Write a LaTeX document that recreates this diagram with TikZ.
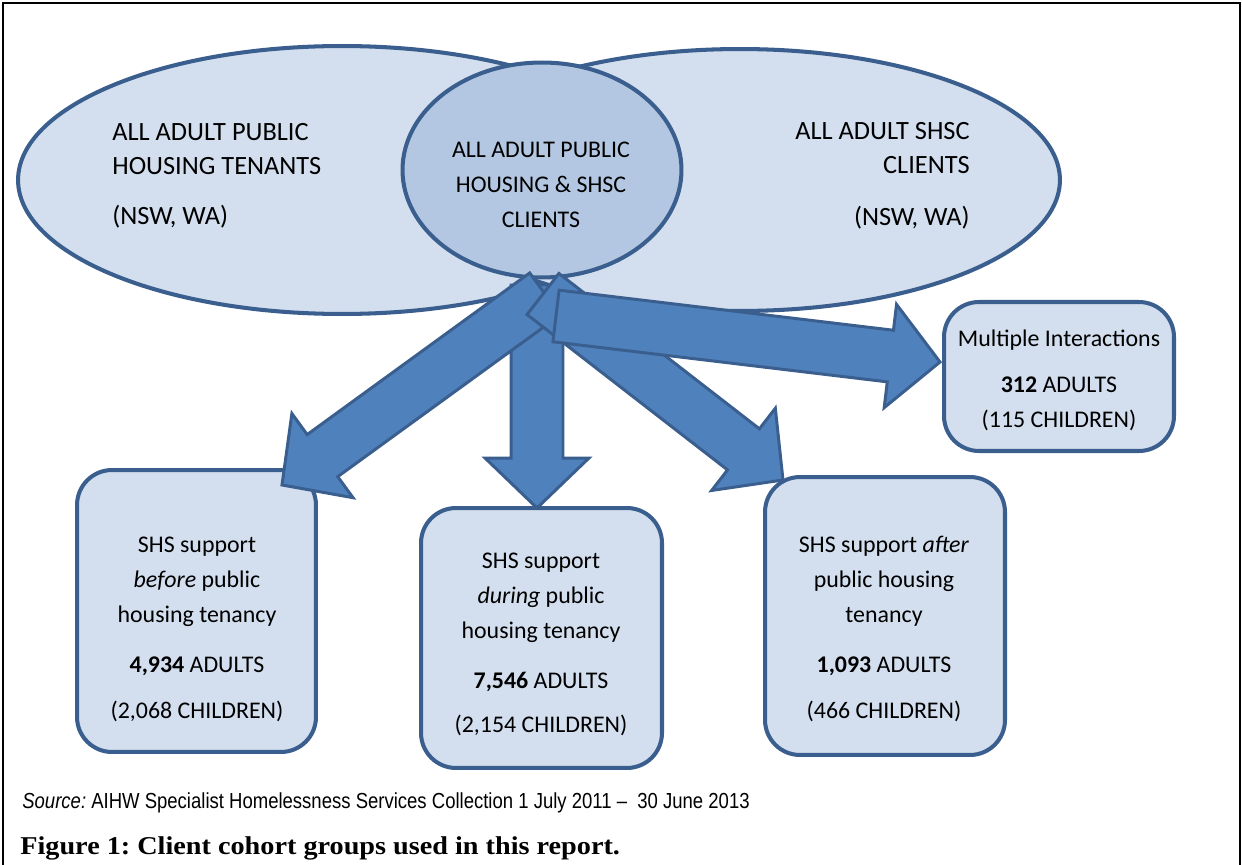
\documentclass[tikz,border=0pt]{standalone}
\usepackage{fontspec}
\setmainfont{Carlito}
\newfontfamily\srcfont[FakeStretch=0.85]{Liberation Sans}
\newfontfamily\capfont[FakeStretch=1.1]{Liberation Serif}
\usetikzlibrary{shapes.geometric,calc}

\definecolor{setfill}{HTML}{D3DFEE}
\definecolor{bothfill}{HTML}{B3C7E2}
\definecolor{edge}{HTML}{3A5F8E}
\definecolor{flowfill}{HTML}{4F81BD}
\tikzset{
  venn/.style={ellipse,draw=edge,fill=setfill,line width=2.3pt},
  cohort/.style={rectangle,rounded corners=0.7cm,draw=edge,fill=setfill,line width=2.3pt},
  flow/.style={draw=edge,fill=flowfill,line width=1.7pt,line join=miter},
  txt/.style={inner sep=0pt,font=\fontsize{13.6}{19.9}\selectfont},
  bigtxt/.style={inner sep=0pt,font=\fontsize{15}{19.4}\selectfont},
}
\newcommand\shafthw{0.52cm}
\newcommand\headhw{1.04cm}
\newcommand\headlen{1cm}
\newcommand\flowarrow[2]{%
  \coordinate (hb) at ($(#2)!\headlen!(#1)$);
  \draw[flow] ($(#1)!\shafthw!90:(#2)$) -- ($(hb)!\shafthw!90:(#2)$) -- ($(hb)!\headhw!90:(#2)$) -- (#2)
    -- ($(hb)!\headhw!-90:(#2)$) -- ($(hb)!\shafthw!-90:(#2)$) -- ($(#1)!\shafthw!-90:(#2)$) -- cycle;}

\begin{document}
\frenchspacing
\begin{tikzpicture}[x=0.02cm,y=-0.02cm]
  \useasboundingbox (0,0) rectangle (1242,865);
  \draw[line width=1.2pt] (3,865) -- (3,3) -- (1240,3) -- (1240,865);

  % the three sets
  \node[venn,minimum width=12.96cm,minimum height=5.36cm] (tenants) at (342,180) {};
  \node[venn,minimum width=12.8cm,minimum height=5.24cm] (shsc) at (740,180) {};
  \node[venn,fill=bothfill,minimum width=5.58cm,minimum height=4.3cm] (both) at (542,170) {};

  \node[bigtxt,anchor=north west,align=left] (tenantsT) at (112,123)
    {ALL ADULT PUBLIC\\HOUSING TENANTS\\[9pt](NSW, WA)};
  \node[bigtxt,anchor=north east,align=right] (shscT) at (970,122)
    {ALL ADULT SHSC\\CLIENTS\\[10pt](NSW, WA)};
  \node[txt,anchor=north,align=center] (bothT) at (541,142)
    {ALL ADULT PUBLIC\\HOUSING \& SHSC\\CLIENTS};

  % cohorts
  \node[cohort,minimum width=4.78cm,minimum height=5.64cm] (before) at (196.5,611) {};
  \node[cohort,minimum width=4.82cm,minimum height=5.2cm] (during) at (541.5,638) {};
  \node[cohort,minimum width=4.8cm,minimum height=5.56cm] (after) at (885,616) {};
  \node[cohort,minimum width=4.6cm,minimum height=2.98cm] (multi) at (1059,376.5) {};

  \node[txt,anchor=north,align=center] (beforeT) at (197,537)
    {SHS support\\\emph{before} public\\housing tenancy\\[8.5pt]\textbf{4,934} ADULTS\\[6.3pt](2,068 CHILDREN)};
  \node[txt,anchor=north,align=center] (duringT) at (541,553)
    {SHS support\\\emph{during} public\\housing tenancy\\[8.5pt]\textbf{7,546} ADULTS\\[5pt](2,154 CHILDREN)};
  \node[txt,anchor=north,align=center] (afterT) at (884,536)
    {SHS support \emph{after}\\public housing\\tenancy\\[8.5pt]\textbf{1,093} ADULTS\\[6pt](466 CHILDREN)};
  \node[txt,anchor=north,align=center] (multiT) at (1059,330)
    {Multiple Interactions\\[6.3pt]\textbf{312} ADULTS\\(115 CHILDREN)};

  % flows out of the overlap
  \coordinate (oDown) at (537,285);
  \coordinate (oLeft) at (545,294);
  \coordinate (oRight) at (543,294);
  \coordinate (oMulti) at (556,316);
  \coordinate (tBefore) at (282,485);
  \coordinate (tDuring) at (537,508);
  \coordinate (tAfter) at (783,480);
  \coordinate (tMulti) at (940,362);
  \flowarrow{oDown}{tDuring}
  \flowarrow{oLeft}{tBefore}
  \flowarrow{oRight}{tAfter}
  \flowarrow{oMulti}{tMulti}

  \node[anchor=west,inner sep=0pt,font=\srcfont\fontsize{12.4}{14}\selectfont] (source) at (22,803)
    {\textit{Source:} AIHW Specialist Homelessness Services Collection 1 July 2011 –\ \ 30 June 2013};
  \node[anchor=west,inner sep=0pt,font=\capfont\bfseries\fontsize{14.6}{17}\selectfont] (caption) at (20,848)
    {Figure 1: Client cohort groups used in this report.};
\end{tikzpicture}
\end{document}
